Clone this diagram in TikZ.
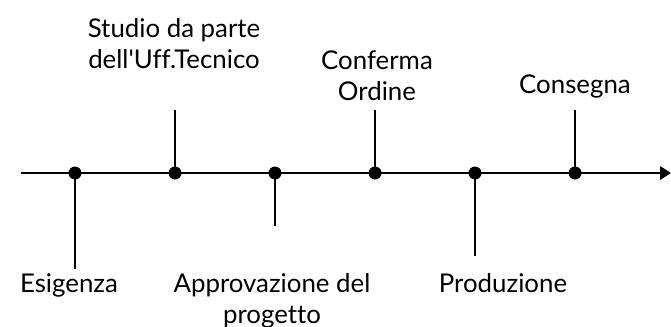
\documentclass[tikz,border=0pt]{standalone}
\usepackage{fontspec}
\setmainfont{Lato}[Ligatures=NoCommon]
\usetikzlibrary{arrows.meta}

\tikzset{
    evento/.style={circle, fill=black, inner sep=0pt, minimum size=0.26cm},
    etichetta/.style={align=center, inner sep=0pt, anchor=base, font=\fontsize{14.7pt}{17.6pt}\selectfont},
}

\begin{document}
\begin{tikzpicture}[x=0.02cm, y=-0.02cm, line width=1.5pt]
        \useasboundingbox (0,0) rectangle (671,326);

        \coordinate (inizio) at (21,173);
        \coordinate (fine) at (671,173);
        \draw[-{Triangle[length=6.2pt,width=7.5pt]}] (inizio) -- (fine);

        \node[evento] (d1) at (75,173) {};
        \node[evento] (d2) at (175,173) {};
        \node[evento] (d3) at (275,173) {};
        \node[evento] (d4) at (375,173) {};
        \node[evento] (d5) at (475,173) {};
        \node[evento] (d6) at (575,173) {};

        \coordinate (t1) at (75,269);
        \coordinate (t2) at (175,110);
        \coordinate (t3) at (275,226);
        \coordinate (t4) at (375,110);
        \coordinate (t5) at (475,256);
        \coordinate (t6) at (575,110);
        \foreach \i in {1,...,6}
            \draw (d\i.center) -- (t\i);

        % nodi su piu righe: base = ultima riga
        \node[etichetta] (l1) at (69,292) {Esigenza};
        \node[etichetta] (l2) at (174,68) {Studio da parte\\dell\textquotesingle Uff.Tecnico};
        \node[etichetta] (l3) at (272,323) {Approvazione del\\progetto};
        \node[etichetta] (l4) at (377,100) {Conferma\\Ordine};
        \node[etichetta] (l5) at (503,292) {Produzione};
        \node[etichetta] (l6) at (575,93) {Consegna};
    \end{tikzpicture}
\end{document}
